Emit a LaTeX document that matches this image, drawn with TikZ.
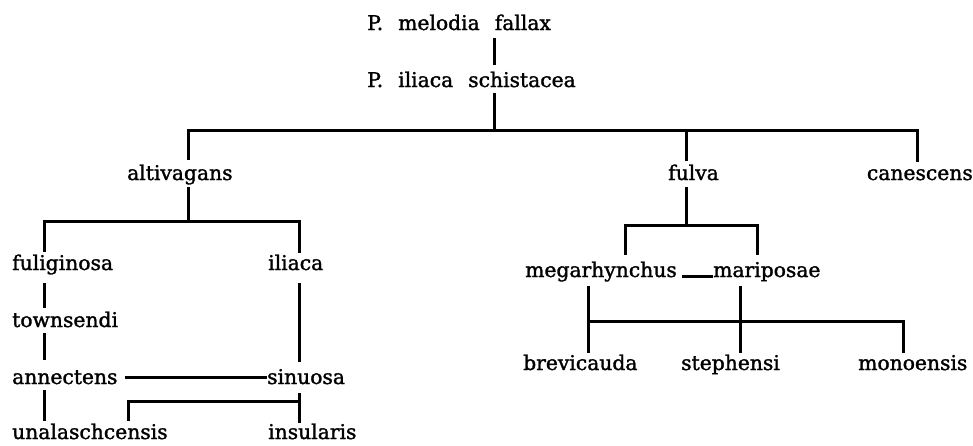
\documentclass[tikz,border=0pt]{standalone}
\usepackage{fontspec}
\setmainfont{DejaVu Serif}[BoldFont=DejaVu Serif, BoldFeatures={FakeBold=1.5}]
\begin{document}
\begin{tikzpicture}[x=1pt,y=-1pt,
  lbl/.style={anchor=base west, inner sep=0pt, text height=13pt, text depth=4pt,
    font=\fontsize{20.3}{24}\selectfont\bfseries},
  ln/.style={line width=3pt, line join=miter, line cap=butt}]
\useasboundingbox (0,0) rectangle (973,445);
% column and row helpers
\coordinate (cA) at (494,0);
\coordinate (cB) at (188,0);
\coordinate (cC) at (686,0);
\coordinate (cD) at (917,0);
\coordinate (cE) at (44,0);
\coordinate (cF) at (299,0);
\coordinate (cG) at (625,0);
\coordinate (cH) at (757,0);
\coordinate (cI) at (588,0);
\coordinate (cJ) at (740,0);
\coordinate (cK) at (903,0);
\coordinate (cL) at (128,0);
\coordinate (rMain) at (0,130);
\coordinate (rAlt) at (0,221);
\coordinate (rFul) at (0,225);
\coordinate (rLow) at (0,321);
\coordinate (rIns) at (0,401);
% labels
\node[lbl] (mel) at (367,30) {P.\hspace{15pt}melodia\hspace{15pt}fallax};
\node[lbl] (sch) at (367,87) {P.\hspace{15pt}iliaca\hspace{15pt}schistacea};
\node[lbl] (alt) at (127,180) {altivagans};
\node[lbl] (ful) at (668,180) {fulva};
\node[lbl,anchor=base east] (can) at (973,180) {canescens};
\node[lbl] (fug) at (12,270) {fuliginosa};
\node[lbl] (ili) at (268,270) {iliaca};
\node[lbl] (tow) at (12,327) {townsendi};
\node[lbl] (ann) at (12,384) {annectens};
\node[lbl] (sin) at (267,384) {sinuosa};
\node[lbl] (una) at (12,439) {unalaschcensis};
\node[lbl] (ins) at (268,439) {insularis};
\node[lbl] (meg) at (525,277) {megarhynchus};
\node[lbl] (mar) at (713,277) {mariposae};
\node[lbl] (bre) at (523,370) {brevicauda};
\node[lbl] (ste) at (681,370) {stephensi};
\node[lbl] (mon) at (858,370) {monoensis};
% connectors
\draw[ln] ([yshift=-4pt]mel.south -| cA) -- ([yshift=9pt]sch.north -| cA);
\draw[ln] ([yshift=-2pt]sch.south -| cA) -- (cA |- rMain);
\draw[ln] ([yshift=7pt]alt.north -| cB) -- (cB |- rMain) -- (cD |- rMain) -- ([yshift=5pt]can.north -| cD);
\draw[ln] (cC |- rMain) -- ([yshift=6pt]ful.north -| cC);
% altivagans group
\draw[ln] ([yshift=-3pt]alt.south -| cB) -- (cB |- rAlt);
\draw[ln] ([yshift=5pt]fug.north -| cE) -- (cE |- rAlt) -- (cF |- rAlt) -- ([yshift=4pt]ili.north -| cF);
\draw[ln] ([yshift=-9pt]fug.south -| cE) -- ([yshift=6pt]tow.north -| cE);
\draw[ln] ([yshift=-2pt]tow.south -| cE) -- ([yshift=11pt]ann.north -| cE);
\draw[ln] ([yshift=-9pt]ili.south -| cF) -- ([yshift=9pt]sin.north -| cF);
\draw[ln] ([xshift=7pt,yshift=7pt]ann.base east) -- ([yshift=7pt]sin.base west);
\draw[ln] ([yshift=-2pt]ann.south -| cE) -- ([yshift=5pt]una.north -| cE);
\draw[ln] ([yshift=5pt]una.north -| cL) -- (cL |- rIns) -- (cF |- rIns);
\draw[ln] ([yshift=-5pt]sin.south -| cF) -- ([yshift=3pt]ins.north -| cF);
% fulva group
\draw[ln] ([yshift=-3pt]ful.south -| cC) -- (cC |- rFul);
\draw[ln] ([yshift=9pt]meg.north -| cG) -- (cG |- rFul) -- (cH |- rFul) -- ([yshift=9pt]mar.north -| cH);
\draw[ln] ([xshift=5pt,yshift=1pt]meg.base east) -- ([yshift=1pt]mar.base west);
\draw[ln] ([yshift=-5pt]meg.south -| cI) -- ([yshift=4pt]bre.north -| cI);
\draw[ln] ([yshift=-5pt]mar.south -| cJ) -- (cJ |- rLow);
\draw[ln] (cI |- rLow) -- (cK |- rLow) -- ([yshift=4pt]mon.north -| cK);
\draw[ln] (cJ |- rLow) -- ([yshift=4pt]ste.north -| cJ);
\end{tikzpicture}
\end{document}
